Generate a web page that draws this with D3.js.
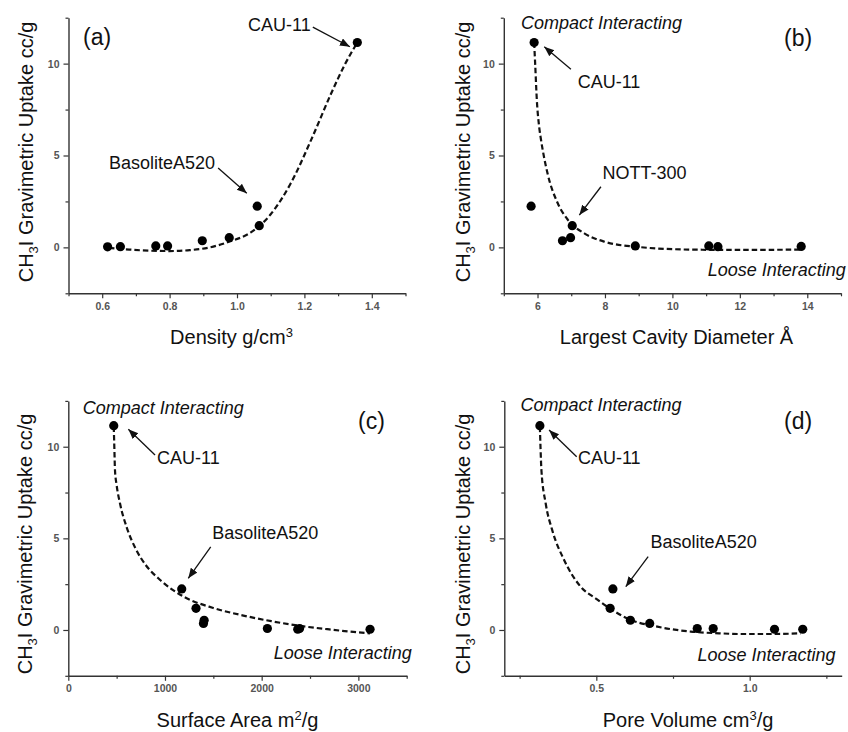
<!DOCTYPE html>
<html><head><meta charset="utf-8">
<script src="https://cdn.jsdelivr.net/npm/d3@7"></script>
<style>
body{margin:0;background:#fff;}
svg{display:block;font-family:"Liberation Sans",Arial,sans-serif;}
</style></head><body>
<svg id="chart" width="848" height="732"></svg>
<script>
// ---------------- data ----------------
const yMajorTicks = [0, 5, 10];
const yMinorTicks = [-2.5, 2.5, 7.5, 12.5];

// (a) density
const densityX = [0.616, 0.654, 0.759, 0.794, 0.897, 0.977, 1.060, 1.066, 1.357];
const densityY = [0.03, 0.04, 0.08, 0.08, 0.36, 0.53, 2.24, 1.18, 11.15];
const fitDensityX = [0.62, 0.68, 0.74, 0.80, 0.86, 0.92, 0.98, 1.04, 1.10, 1.16, 1.22, 1.28, 1.32, 1.357];
const fitDensityY = [-0.03, -0.12, -0.18, -0.2, -0.15, 0.0, 0.33, 0.8, 1.8, 3.5, 5.85, 8.4, 9.95, 11.15];
const densityMajor = [0.6, 0.8, 1.0, 1.2, 1.4];
const densityMinor = [0.5, 0.7, 0.9, 1.1, 1.3, 1.5];

// (b) largest cavity diameter
const cavityX = [5.81, 5.90, 6.74, 6.98, 7.03, 8.90, 11.08, 11.35, 13.82];
const cavityY = [2.24, 11.15, 0.36, 0.53, 1.18, 0.08, 0.08, 0.04, 0.05];
const fitCavityX = [5.9, 5.93, 5.98, 6.04, 6.1, 6.2, 6.3, 6.6, 6.9, 7.4, 8.0, 9.0, 10.5, 12.0, 13.8];
const fitCavityY = [11.15, 10.0, 8.0, 6.7, 5.9, 4.85, 4.0, 2.4, 1.5, 0.75, 0.3, 0.02, -0.12, -0.14, -0.12];
const cavityMajor = [6, 8, 10, 12, 14];
const cavityMinor = [5, 7, 9, 11, 13, 15];

// (c) surface area
const surfaceX = [470, 1173, 1321, 1398, 1405, 2059, 2373, 2392, 3121];
const surfaceY = [11.15, 2.24, 1.18, 0.36, 0.53, 0.08, 0.04, 0.08, 0.04];
const fitSurfaceX = [470, 476, 483, 500, 535, 604, 700, 800, 950, 1200, 1500, 1800, 2100, 2400, 2700, 3000, 3120];
const fitSurfaceY = [11.1, 10.0, 8.7, 7.9, 6.9, 5.6, 4.4, 3.55, 2.73, 1.8, 1.2, 0.8, 0.48, 0.22, 0.03, -0.13, -0.18];
const surfaceMajor = [0, 1000, 2000, 3000];
const surfaceMinor = [500, 1500, 2500, 3500];

// (d) pore volume
const poreX = [0.316, 0.554, 0.545, 0.611, 0.674, 0.829, 0.881, 1.081, 1.173];
const poreY = [11.15, 2.24, 1.18, 0.53, 0.36, 0.08, 0.08, 0.04, 0.04];
const fitPoreX = [0.316, 0.318, 0.321, 0.335, 0.356, 0.395, 0.449, 0.5, 0.536, 0.612, 0.699, 0.808, 0.9, 0.971, 1.08, 1.166];
const fitPoreY = [11.1, 10.0, 8.73, 6.9, 5.46, 3.82, 2.36, 1.7, 1.27, 0.55, 0.18, -0.09, -0.18, -0.22, -0.22, -0.18];
const poreMajor = [0.5, 1.0];
const poreMinor = [0.25, 0.75, 1.25];

// annotation texts (positions in data units)
const labelsA = [
  {t: "(a)", x: 0.543, y: 10.99, size: 23},
  {t: "CAU-11", x: 1.033, y: 11.78},
  {t: "BasoliteA520", x: 0.620, y: 4.27}
];
const arrowsA = [{x1: 1.225, y1: 11.99, x2: 1.335, y2: 10.92}, {x1: 0.944, y1: 4.32, x2: 1.029, y2: 2.94}];
const labelsB = [
  {t: "Compact Interacting", x: 5.51, y: 11.89, italic: true},
  {t: "(b)", x: 13.31, y: 10.95, size: 23},
  {t: "CAU-11", x: 7.19, y: 8.68},
  {t: "NOTT-300", x: 7.93, y: 3.72},
  {t: "Loose Interacting", x: 15.14, y: -1.56, italic: true, anchor: "end"}
];
const arrowsB = [{x1: 6.99, y1: 9.69, x2: 6.2, y2: 10.92}, {x1: 7.88, y1: 3.30, x2: 7.24, y2: 1.76}];
const labelsC = [
  {t: "Compact Interacting", x: 149, y: 11.78, italic: true},
  {t: "(c)", x: 2996, y: 10.96, size: 23},
  {t: "CAU-11", x: 917, y: 9.03},
  {t: "BasoliteA520", x: 1489, y: 4.96},
  {t: "Loose Interacting", x: 3552, y: -1.58, italic: true, anchor: "end"}
];
const arrowsC = [{x1: 897, y1: 9.55, x2: 621, y2: 10.95}, {x1: 1473, y1: 4.54, x2: 1241, y2: 2.82}];
const labelsD = [
  {t: "Compact Interacting", x: 0.253, y: 11.95, italic: true},
  {t: "(d)", x: 1.112, y: 10.96, size: 23},
  {t: "CAU-11", x: 0.440, y: 9.03},
  {t: "BasoliteA520", x: 0.677, y: 4.47},
  {t: "Loose Interacting", x: 1.28, y: -1.69, italic: true, anchor: "end"}
];
const arrowsD = [{x1: 0.436, y1: 9.45, x2: 0.346, y2: 10.91}, {x1: 0.669, y1: 4.0, x2: 0.596, y2: 2.36}];

// axis titles: [main, superscript, after]
const xTitles = [["Density g/cm", "3", ""], ["Largest Cavity Diameter Å", "", ""], ["Surface Area m", "2", "/g"], ["Pore Volume cm", "3", "/g"]];

// ---------------- layout ----------------
const panels = [
  {xs: densityX, ys: densityY, fx: fitDensityX, fy: fitDensityY, dom: [0.5, 1.5], xr: [68.5, 405.5], yr: [293.3, 17.7],
   major: densityMajor, minor: densityMinor, fmt: d3.format(".1f"), labels: labelsA, arrows: arrowsA, title: xTitles[0], tx: 231.5, ylx: 32.5, yly: 152},
  {xs: cavityX, ys: cavityY, fx: fitCavityX, fy: fitCavityY, dom: [5, 15], xr: [503.8, 841], yr: [293.3, 17.7],
   major: cavityMajor, minor: cavityMinor, fmt: d3.format("d"), labels: labelsB, arrows: arrowsB, title: xTitles[1], tx: 676.5, ylx: 470, yly: 152},
  {xs: surfaceX, ys: surfaceY, fx: fitSurfaceX, fy: fitSurfaceY, dom: [0, 3500], xr: [68.3, 406.7], yr: [675.8, 400.9],
   major: surfaceMajor, minor: surfaceMinor, fmt: d3.format("d"), labels: labelsC, arrows: arrowsC, title: xTitles[2], tx: 237.5, ylx: 31.8, yly: 544},
  {xs: poreX, ys: poreY, fx: fitPoreX, fy: fitPoreY, dom: [0.2, 1.3], xr: [504.3, 841.7], yr: [675.8, 400.9],
   major: poreMajor, minor: poreMinor, fmt: d3.format(".1f"), labels: labelsD, arrows: arrowsD, title: xTitles[3], tx: 688, ylx: 469.7, yly: 544}
];

const svg = d3.select("#chart");
svg.append("rect").attr("width", 848).attr("height", 732).attr("fill", "#fff");

const defs = svg.append("defs");
defs.append("marker").attr("id", "arrow")
  .attr("markerUnits", "userSpaceOnUse")
  .attr("markerWidth", 12).attr("markerHeight", 10)
  .attr("refX", 10).attr("refY", 4).attr("orient", "auto")
  .append("path").attr("d", "M0,0 L10,4 L0,8 Z").attr("fill", "#111");

const axisColor = "#333";
const tickColor = "#555";

panels.forEach(p => {
  const x = d3.scaleLinear().domain(p.dom).range(p.xr);
  const y = d3.scaleLinear().domain([-2.5, 12.5]).range(p.yr);
  const g = svg.append("g");
  const baseY = p.yr[0], baseX = p.xr[0];

  // x axis
  const xa = g.append("g").attr("transform", `translate(0,${baseY})`)
    .call(d3.axisBottom(x).tickValues(p.major).tickFormat(p.fmt).tickSize(5).tickSizeOuter(0).tickPadding(4));
  g.append("g").attr("transform", `translate(0,${baseY})`)
    .call(d3.axisBottom(x).tickValues(p.minor).tickFormat("").tickSize(3).tickSizeOuter(0))
    .select(".domain").remove();
  // y axis
  const ya = g.append("g").attr("transform", `translate(${baseX},0)`)
    .call(d3.axisLeft(y).tickValues(yMajorTicks).tickFormat(d3.format("d")).tickSize(5).tickSizeOuter(0).tickPadding(4));
  g.append("g").attr("transform", `translate(${baseX},0)`)
    .call(d3.axisLeft(y).tickValues(yMinorTicks).tickFormat("").tickSize(3).tickSizeOuter(0))
    .select(".domain").remove();

  g.selectAll(".domain").attr("stroke", axisColor).attr("stroke-width", 1.4);
  g.selectAll(".tick line").attr("stroke", axisColor).attr("stroke-width", 1.2);
  g.selectAll(".tick text").attr("fill", tickColor).attr("font-size", 10.5).attr("font-weight", "bold")
    .attr("font-family", "Liberation Sans, Arial, sans-serif");

  // fit curve
  const line = d3.line().x(d => x(d[0])).y(d => y(d[1])).curve(d3.curveMonotoneX);
  g.append("path").datum(p.fx.map((v, i) => [v, p.fy[i]]))
    .attr("d", line).attr("fill", "none").attr("stroke", "#111")
    .attr("stroke-width", 2.2).attr("stroke-dasharray", "5.5,3");

  // points
  g.selectAll("circle.pt").data(p.xs.map((v, i) => [v, p.ys[i]])).join("circle")
    .attr("class", "pt").attr("cx", d => x(d[0])).attr("cy", d => y(d[1])).attr("r", 4.6).attr("fill", "#000");

  // arrows
  g.selectAll("line.arr").data(p.arrows).join("line").attr("class", "arr")
    .attr("x1", d => x(d.x1)).attr("y1", d => y(d.y1)).attr("x2", d => x(d.x2)).attr("y2", d => y(d.y2))
    .attr("stroke", "#111").attr("stroke-width", 1.3).attr("marker-end", "url(#arrow)");

  // labels
  g.selectAll("text.lab").data(p.labels).join("text").attr("class", "lab")
    .attr("x", d => x(d.x)).attr("y", d => y(d.y))
    .attr("text-anchor", d => d.anchor || "start")
    .attr("font-size", d => d.size || 18)
    .attr("font-style", d => d.italic ? "italic" : "normal")
    .attr("fill", "#111")
    .text(d => d.t);

  // x title
  const xt = g.append("text").attr("x", p.tx).attr("y", baseY + 51).attr("text-anchor", "middle")
    .attr("font-size", 20).attr("fill", "#111");
  xt.append("tspan").text(p.title[0]);
  if (p.title[1]) {
    xt.append("tspan").attr("dy", -7).attr("font-size", 13).text(p.title[1]);
    xt.append("tspan").attr("dy", 7).text(p.title[2]);
  }

  // y title
  const yt = g.append("text").attr("transform", `translate(${p.ylx},${p.yly}) rotate(-90)`)
    .attr("text-anchor", "middle").attr("font-size", 20).attr("fill", "#111");
  yt.append("tspan").text("CH");
  yt.append("tspan").attr("dy", 5).attr("font-size", 13).text("3");
  yt.append("tspan").attr("dy", -5).text("I Gravimetric Uptake cc/g");
});
</script>
</body></html>
